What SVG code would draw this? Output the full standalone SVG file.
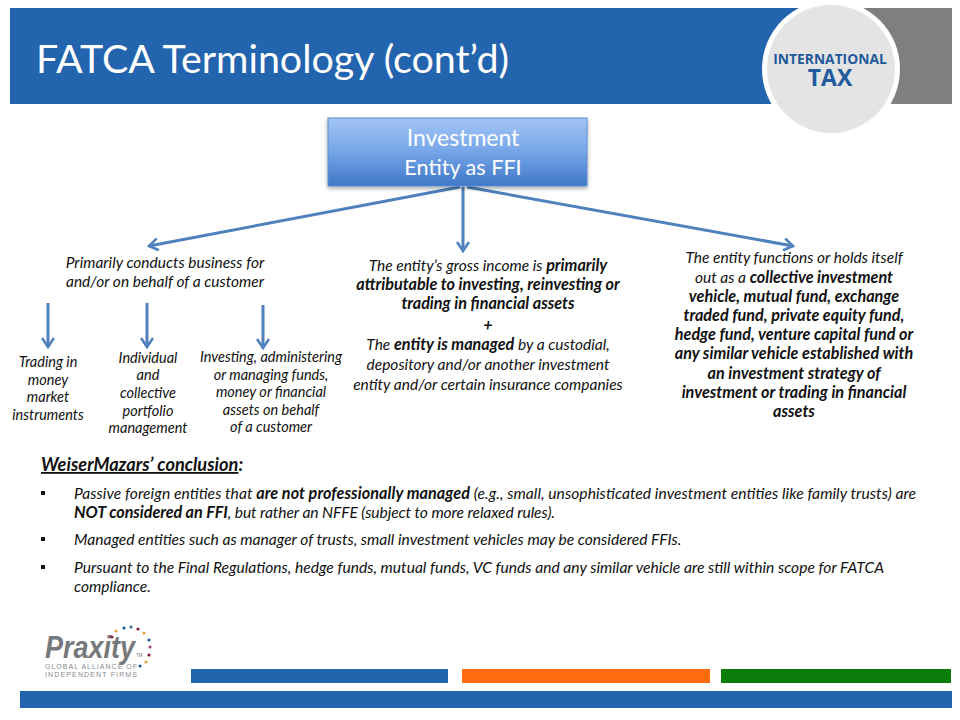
<svg xmlns="http://www.w3.org/2000/svg" width="960" height="720" viewBox="0 0 960 720">
<defs>
<linearGradient id="boxg" x1="0" y1="0" x2="0" y2="1"><stop offset="0" stop-color="#a3c4f5"/><stop offset="0.45" stop-color="#7aa9ea"/><stop offset="1" stop-color="#3f78c8"/></linearGradient>
<marker id="ah" markerUnits="userSpaceOnUse" markerWidth="14" markerHeight="14" viewBox="0 0 14 14" refX="12" refY="7" orient="auto"><path d="M3 1 L12 7 L3 13" fill="none" stroke="#4f81bd" stroke-width="2.6"/></marker>
<filter id="sh" x="-5%" y="-10%" width="110%" height="125%"><feDropShadow dx="0" dy="2" stdDeviation="2" flood-color="#000" flood-opacity="0.35"/></filter>
</defs>
<style>
text{font-family:Lato,"Open Sans","Liberation Sans",sans-serif;fill:#111}
.n{font-size:15.5px;font-style:italic;text-anchor:middle}
.l{font-size:14.5px}
.c{font-size:15.6px;font-style:italic}
.b{font-weight:700;font-size:16.2px}
.conn{stroke:#4f81bd;stroke-width:3;fill:none;marker-end:url(#ah)}
</style>
<rect width="960" height="720" fill="#fff"/>
<g id="header">
<rect x="10" y="8" width="942" height="96" fill="#2364ae"/>
<rect x="860" y="8" width="92" height="96" fill="#7f7f7f"/>
<text x="36" y="73" font-size="39.4" style="fill:#fff">FATCA Terminology (cont’d)</text>
</g>
<g id="badge">
<circle cx="831" cy="69" r="69" fill="#fff"/>
<circle cx="831" cy="69" r="64" fill="#e4e4e4"/>
<text x="830" y="64" text-anchor="middle" font-size="13.8" font-weight="700" style="fill:#1f5a9c;font-family:'Open Sans',sans-serif">INTERNATIONAL</text>
<text x="830" y="86" text-anchor="middle" font-size="23" font-weight="700" style="fill:#1f5a9c;font-family:'Open Sans',sans-serif">TAX</text>
</g>
<g id="connectors">
<line class="conn" x1="460" y1="187" x2="149" y2="246"/>
<line class="conn" x1="463" y1="187" x2="463" y2="251"/>
<line class="conn" x1="467" y1="187" x2="793" y2="246"/>
<line class="conn" x1="48" y1="303" x2="48" y2="347"/>
<line class="conn" x1="147" y1="303" x2="147" y2="347"/>
<line class="conn" x1="263" y1="305" x2="263" y2="348"/>
</g>
<g id="root">
<rect x="328" y="118" width="259" height="68" fill="url(#boxg)" stroke="#5b8fd0" stroke-width="1" filter="url(#sh)"/>
<text x="463" y="146" text-anchor="middle" font-size="23" style="fill:#fff">Investment</text>
<text x="463" y="175" text-anchor="middle" font-size="21.6" style="fill:#fff">Entity as FFI</text>
</g>
<g id="branch-customer">
<text class="n" x="165" y="268">Primarily conducts business for</text>
<text class="n" x="165" y="287">and/or on behalf of a customer</text>
</g>
<g id="leaf-trading">
<text class="n l" x="48" y="367">Trading in</text><text class="n l" x="48" y="385">money</text><text class="n l" x="48" y="402">market</text><text class="n l" x="48" y="420">instruments</text>
</g>
<g id="leaf-portfolio">
<text class="n l" x="148" y="363">Individual</text><text class="n l" x="148" y="380">and</text><text class="n l" x="148" y="398">collective</text><text class="n l" x="148" y="416">portfolio</text><text class="n l" x="148" y="433">management</text>
</g>
<g id="leaf-investing">
<text class="n l" x="271" y="362">Investing, administering</text><text class="n l" x="271" y="380">or managing funds,</text><text class="n l" x="271" y="397">money or financial</text><text class="n l" x="271" y="415">assets on behalf</text><text class="n l" x="271" y="432">of a customer</text>
</g>
<g id="branch-income">
<text class="n" x="488" y="271">The entity’s gross income is <tspan class="b">primarily</tspan></text>
<text class="n b" x="488" y="290">attributable to investing, reinvesting or</text>
<text class="n b" x="488" y="309">trading in financial assets</text>
<text class="n b" x="488" y="331">+</text>
<text class="n" x="488" y="350">The <tspan class="b">entity is managed</tspan> by a custodial,</text>
<text class="n" x="488" y="370">depository and/or another investment</text>
<text class="n" x="488" y="390">entity and/or certain insurance companies</text>
</g>
<g id="branch-vehicle">
<text class="n" x="794" y="263">The entity functions or holds itself</text>
<text class="n" x="794" y="283">out as a <tspan class="b">collective investment</tspan></text>
<text class="n b" x="794" y="302">vehicle, mutual fund, exchange</text>
<text class="n b" x="794" y="321">traded fund, private equity fund,</text>
<text class="n b" x="794" y="340">hedge fund, venture capital fund or</text>
<text class="n b" x="794" y="359">any similar vehicle established with</text>
<text class="n b" x="794" y="379">an investment strategy of</text>
<text class="n b" x="794" y="398">investment or trading in financial</text>
<text class="n b" x="794" y="417">assets</text>
</g>
<g id="conclusion">
<text x="41" y="471" font-size="18.2" font-weight="700" font-style="italic"><tspan text-decoration="underline">WeiserMazars’ conclusion</tspan>:</text>
<rect x="41" y="491" width="4" height="4" fill="#111"/>
<text class="c" x="74" y="499" textLength="842" lengthAdjust="spacing">Passive foreign entities that <tspan class="b">are not professionally managed</tspan> (e.g., small, unsophisticated investment entities like family trusts) are</text>
<text class="c" x="74" y="518" textLength="481" lengthAdjust="spacing"><tspan class="b">NOT considered an FFI</tspan>, but rather an NFFE (subject to more relaxed rules).</text>
<rect x="41" y="537" width="4" height="4" fill="#111"/>
<text class="c" x="74" y="545">Managed entities such as manager of trusts, small investment vehicles may be considered FFIs.</text>
<rect x="41" y="565" width="4" height="4" fill="#111"/>
<text class="c" x="74" y="573">Pursuant to the Final Regulations, hedge funds, mutual funds, VC funds and any similar vehicle are still within scope for FATCA</text>
<text class="c" x="74" y="592">compliance.</text>
</g>
<g id="logo">
<text x="45" y="658" font-size="32" font-style="italic" font-weight="700" textLength="90" lengthAdjust="spacingAndGlyphs" style="fill:#77787b;font-family:'Liberation Sans',sans-serif">Praxity</text>
<text x="136" y="657" font-size="4.5" style="fill:#77787b;font-family:'Liberation Sans',sans-serif">TM</text>
<text x="45" y="669" font-size="7" textLength="92" lengthAdjust="spacing" style="fill:#8a8b8e;font-family:'Liberation Sans',sans-serif">GLOBAL ALLIANCE OF</text>
<text x="45" y="677" font-size="7" textLength="92" lengthAdjust="spacing" style="fill:#8a8b8e;font-family:'Liberation Sans',sans-serif">INDEPENDENT FIRMS</text>
<circle cx="112" cy="637" r="1.6" fill="#8e1b3e"/><circle cx="116" cy="631" r="1.6" fill="#e8a33d"/><circle cx="124" cy="628" r="1.6" fill="#1f5a9c"/><circle cx="131" cy="627" r="1.6" fill="#3a6f8f"/><circle cx="138" cy="629" r="1.6" fill="#8e1b3e"/><circle cx="144" cy="633" r="1.6" fill="#e8a33d"/><circle cx="149" cy="640" r="1.6" fill="#1f5a9c"/><circle cx="150" cy="647" r="1.6" fill="#9a4a6a"/><circle cx="149" cy="655" r="1.6" fill="#8e1b3e"/><circle cx="146" cy="662" r="1.6" fill="#e8a33d"/><circle cx="140" cy="666" r="1.6" fill="#1f5a9c"/>
</g>
<g id="footer">
<rect x="191" y="669" width="257" height="14" fill="#2364ae"/>
<rect x="462" y="669" width="248" height="14" fill="#ff6a0d"/>
<rect x="721" y="669" width="230" height="14" fill="#0a7d0a"/>
<rect x="20" y="691" width="932" height="17" fill="#2364ae"/>
</g>
</svg>
